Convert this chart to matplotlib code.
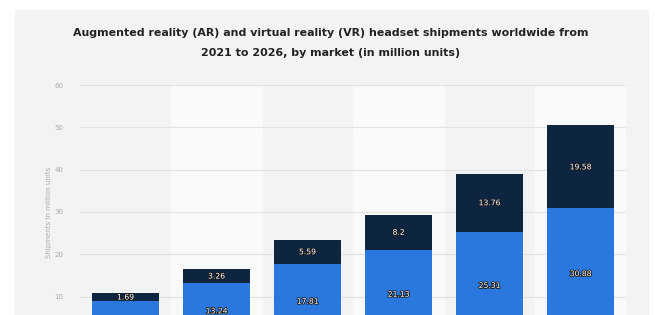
import numpy as np
import matplotlib.pyplot as plt
import matplotlib.patheffects as pe
from matplotlib.patches import Rectangle

# data
years = ['2021', '2022', '2023', '2024', '2025', '2026']
consumer = [9.06, 13.24, 17.81, 21.13, 25.31, 30.88]
commercial = [1.69, 3.26, 5.59, 8.2, 13.76, 19.58]
y_ticks = [10, 20, 30, 40, 50, 60]

blue = '#2a78de'
navy = '#0e2541'

fig = plt.figure(figsize=(6.55, 3.15), dpi=100, facecolor='white')
# light gray panel behind everything
fig.patches.append(Rectangle((15 / 655, 0), 633 / 655, 305 / 315,
                             transform=fig.transFigure, color='#f3f3f3', zorder=-10))

fig.text(0.505, 0.895, 'Augmented reality (AR) and virtual reality (VR) headset shipments worldwide from',
         ha='center', va='center', fontsize=7.9, fontweight='bold', color='#222222')
fig.text(0.505, 0.832, '2021 to 2026, by market (in million units)',
         ha='center', va='center', fontsize=7.9, fontweight='bold', color='#222222')

ax = fig.add_axes([80 / 655, -0.076, 546 / 655, 0.806])
ax.set_facecolor('none')
x = np.arange(len(years))

# alternating column stripes
for i in x:
    if i % 2 == 1:
        ax.axvspan(i - 0.5, i + 0.5, color='#fafafa', zorder=0)

ax.bar(x, consumer, width=0.73, color=blue, zorder=3)
ax.bar(x, commercial, width=0.73, bottom=consumer, color=navy, zorder=3)

stroke = [pe.withStroke(linewidth=1.2, foreground='#1a1a1a')]
for i in x:
    ax.text(i, consumer[i] / 2, f'{consumer[i]:g}', ha='center', va='center',
            fontsize=5.5, color='white', path_effects=stroke, zorder=5)
    ax.text(i, consumer[i] + commercial[i] / 2, f'{commercial[i]:g}', ha='center', va='center',
            fontsize=5.5, color='white', path_effects=stroke, zorder=5)

ax.set_xlim(-0.5, len(years) - 0.5)
ax.set_ylim(0, 60)
ax.set_yticks(y_ticks)
ax.set_yticklabels([str(t) for t in y_ticks], fontsize=5, color='#aaaaaa')
ax.set_xticks([])
ax.tick_params(axis='y', length=0, pad=12)
ax.grid(axis='y', color='#e2e2e2', lw=0.8, zorder=1)
for s in ax.spines.values():
    s.set_visible(False)
ax.set_ylabel('Shipments in million units', fontsize=5, color='#aaaaaa')
ax.yaxis.set_label_coords(-0.052, 0.5)

fig.savefig('out.png', dpi=100, facecolor=fig.get_facecolor())
